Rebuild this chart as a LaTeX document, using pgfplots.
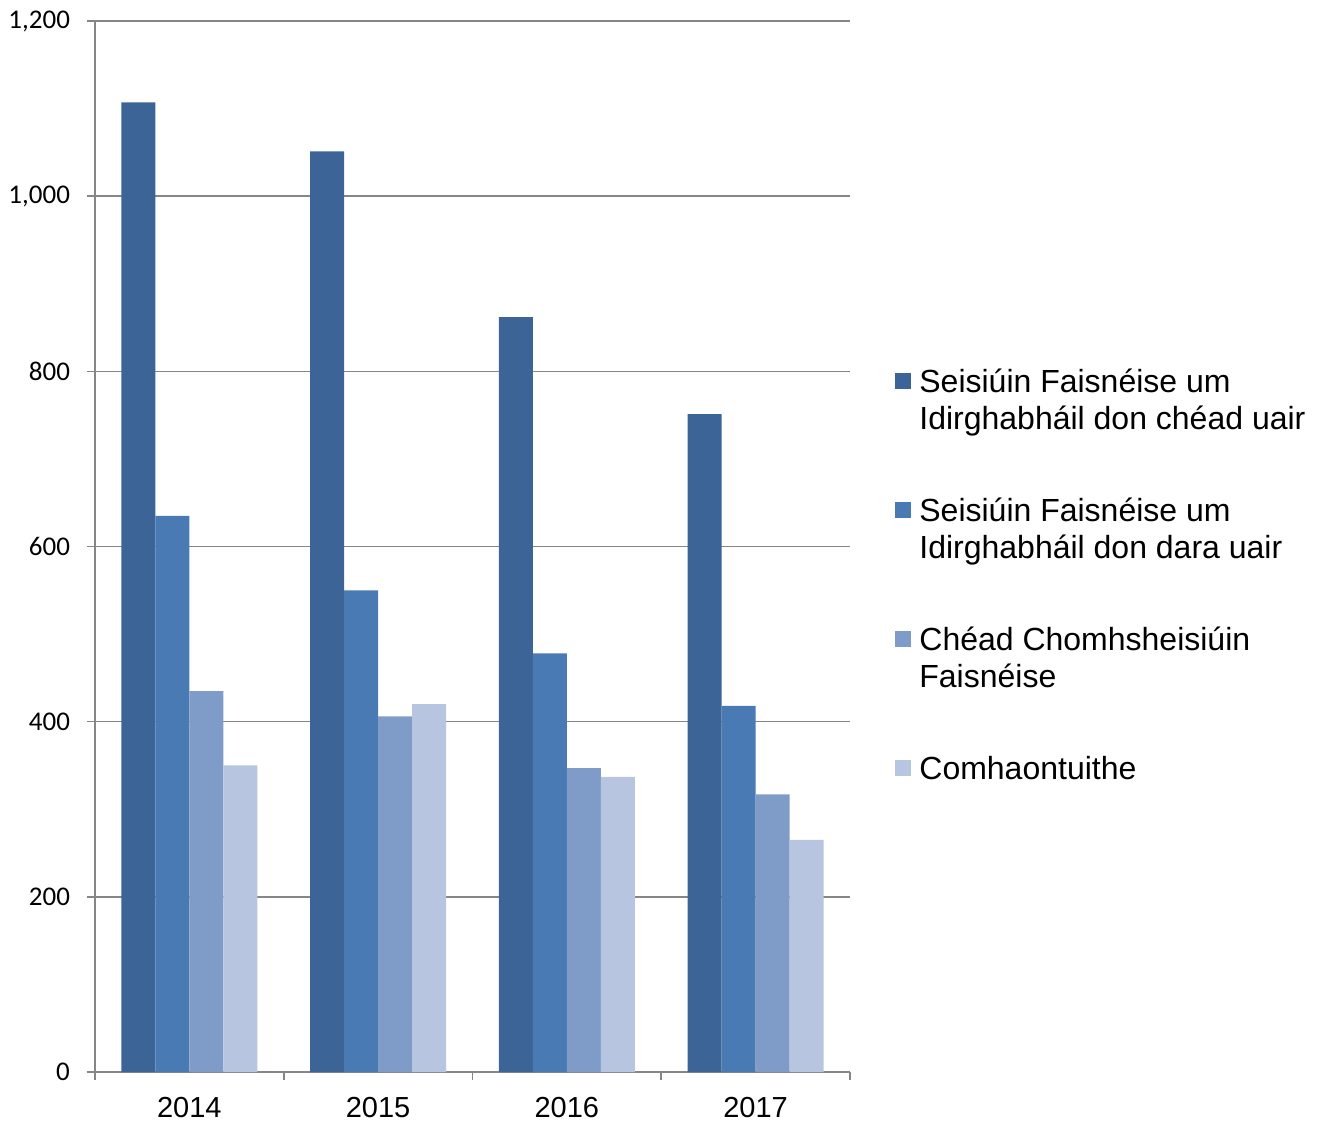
\documentclass[border=0pt]{standalone}
\usepackage{pgfplots}
\pgfplotsset{compat=1.18}
\usepackage{fontspec}
\setmainfont{Liberation Sans}
\newfontfamily\carlito{Carlito}
\definecolor{cA}{RGB}{60,100,150}
\definecolor{cB}{RGB}{74,122,180}
\definecolor{cC}{RGB}{127,156,200}
\definecolor{cD}{RGB}{183,197,224}
\definecolor{gridg}{RGB}{134,134,134}
\newcommand{\tl}[1]{\begin{tabular}[t]{@{}l@{}}#1\end{tabular}}
\begin{document}
\begin{tikzpicture}
\begin{axis}[
  scale only axis,
  width=377.5pt, height=525.5pt,
  ybar=0pt, bar width=17pt,
  xmin=-0.5, xmax=3.5,
  ymin=0, ymax=1200,
  xtick={-0.5,0.5,1.5,2.5,3.5},
  xticklabels={2014,2015,2016,2017},
  x tick label as interval=true,
  ytick={0,200,400,600,800,1000,1200},
  /pgf/number format/assume math mode=true,
  yticklabel style={font=\carlito\fontsize{13.5}{15}\selectfont, xshift=-5pt},
  xticklabel style={font=\fontsize{14.5}{17}\selectfont, yshift=-5pt},
  axis x line*=bottom, axis y line*=left,
  axis line style={gridg, line width=0.8pt},
  tick style={gridg, line width=0.8pt},
  tick align=outside,
  major tick length=4pt,
  ymajorgrids, grid style={gridg, line width=0.8pt},
  legend cell align=left,
  legend style={draw=none, fill=none, inner sep=0pt,
    at={(rel axis cs:1,1)}, anchor=north west, xshift=22.5pt, yshift=-170.5pt,
    font=\fontsize{16}{18.5}\selectfont,
    cells={anchor=base west, inner sep=0pt},
    row sep=46pt,
    /tikz/every odd column/.style={column sep=2pt}},
  legend image code/.code={\fill[#1] (0pt,1.5pt) rectangle (8pt,9.5pt);},
  every axis plot/.append style={draw=none},
]
\addplot[fill=cA] coordinates {(0,1107) (1,1051) (2,862) (3,751)};
\addplot[fill=cB] coordinates {(0,635) (1,550) (2,478) (3,418)};
\addplot[fill=cC] coordinates {(0,435) (1,406) (2,347) (3,317)};
\addplot[fill=cD] coordinates {(0,350) (1,420) (2,337) (3,265)};
\addlegendentry{\tl{Seisiúin Faisnéise um\\Idirghabháil don chéad uair}}
\addlegendentry{\tl{Seisiúin Faisnéise um\\Idirghabháil don dara uair}}
\addlegendentry{\tl{Chéad Chomhsheisiúin\\Faisnéise}}
\addlegendentry{\tl{Comhaontuithe}}
\coordinate (bl) at (rel axis cs:0,0);
\coordinate (tr) at (rel axis cs:1,1);
\end{axis}
\pgfresetboundingbox
\path ([xshift=-47.5pt,yshift=-24.5pt]bl) rectangle ([xshift=233.5pt,yshift=10.5pt]tr);
\end{tikzpicture}
\end{document}
